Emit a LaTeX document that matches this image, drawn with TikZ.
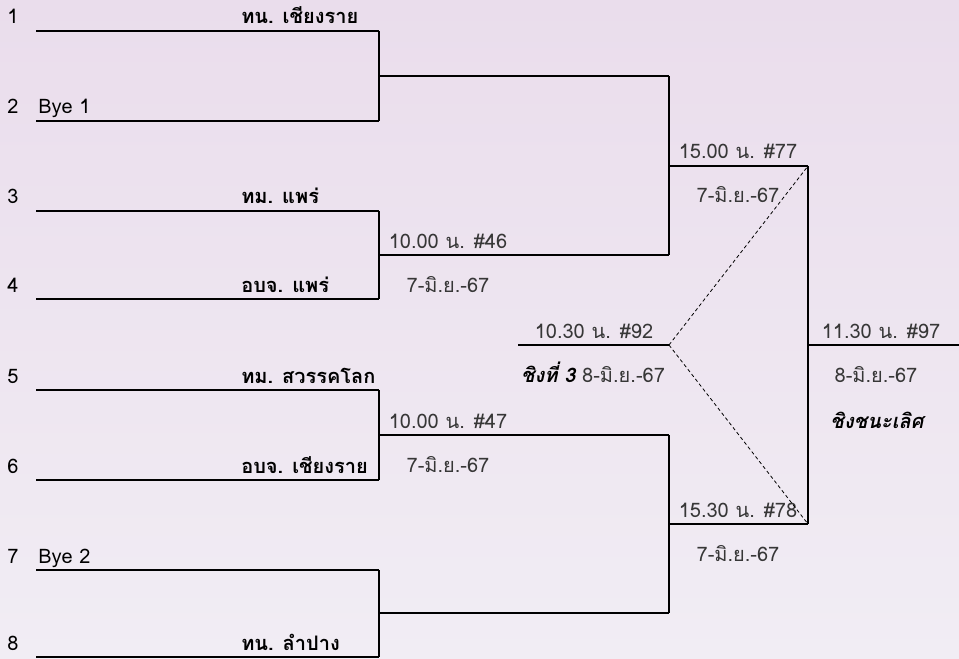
\documentclass[tikz,border=0pt]{standalone}
\usepackage{fontspec}
\setmainfont{Loma}[Script=Thai, BoldFont={Loma Bold}, ItalicFont={Loma Oblique}, BoldItalicFont={Loma Bold Oblique}]
\usetikzlibrary{calc}
\definecolor{bgtop}{RGB}{234,221,236}
\definecolor{bgbottom}{RGB}{241,237,244}
\definecolor{labelgray}{RGB}{55,55,55}
\newcommand{\bracketfont}{\fontsize{15}{18}\selectfont}
\tikzstyle{bracketline}=[black,line width=0.9pt]
\tikzstyle{crossline}=[black,line width=0.6pt,dash pattern=on 2.6pt off 2pt]
\tikzstyle{seednum}=[anchor=base west,inner sep=0pt,font=\bracketfont]
\tikzstyle{teamname}=[anchor=base west,inner sep=0pt,font=\bracketfont\bfseries]
\tikzstyle{byename}=[anchor=base west,inner sep=0pt,font=\bracketfont]
\tikzstyle{schedule}=[anchor=base,inner sep=0pt,text=labelgray,font=\bracketfont]
\newcommand{\seedline}[2]{ % seed number, height of its line
	\coordinate (p#1l) at (36,#2);
	\coordinate (p#1r) at (379,#2);
	\draw[bracketline] (p#1l) -- (p#1r);
	\node[seednum] (seed#1) at (7,#2-7) {#1};
}
\newcommand{\matchinfo}[5]{ % name, centre, height of line, time, date
	\node[schedule] (#1time) at (#2,#3-7) {#4};
	\node[schedule] (#1date) at (#2,#3+37) {#5};
}
\begin{document}
\begin{tikzpicture}[x=0.75pt,y=-0.75pt]
	\fill[top color=bgtop,bottom color=bgbottom] (0,0) rectangle (959,659);
	\useasboundingbox (0,0) rectangle (959,659);
	% first round
	\foreach \i/\y in {1/31,2/121,3/211,4/299,5/390,6/480,7/570,8/657} {
		\seedline{\i}{\y}
	}
	\node[teamname] (team1) at (241,24) {ทน. เชียงราย};
	\node[byename] (team2) at (38,114) {Bye 1};
	\node[teamname] (team3) at (241,204) {ทม. แพร่};
	\node[teamname] (team4) at (241,292) {อบจ. แพร่};
	\node[teamname] (team5) at (241,383) {ทม. สวรรคโลก};
	\node[teamname] (team6) at (241,473) {อบจ. เชียงราย};
	\node[byename] (team7) at (38,563) {Bye 2};
	\node[teamname] (team8) at (241,650) {ทน. ลำปาง};
	% second round
	\foreach \k/\y in {1/76,2/255,3/435,4/613} {
		\coordinate (q\k) at (379,\y);
		\coordinate (q\k e) at (669,\y);
		\draw[bracketline] (q\k) -- (q\k e);
	}
	\draw[bracketline] (p1r) -- (p2r);
	\draw[bracketline] (p3r) -- (p4r);
	\draw[bracketline] (p5r) -- (p6r);
	\draw[bracketline] (p7r) -- (p8r);
	\matchinfo{m46}{448}{255}{10.00 น. \#46}{7-มิ.ย.-67}
	\matchinfo{m47}{448}{435}{10.00 น. \#47}{7-มิ.ย.-67}
	% semi finals
	\coordinate (h1) at (669,166);
	\coordinate (h1e) at (808,166);
	\coordinate (h2) at (669,524);
	\coordinate (h2e) at (808,524);
	\draw[bracketline] (q1e) -- (q2e);
	\draw[bracketline] (q3e) -- (q4e);
	\draw[bracketline] (h1) -- (h1e);
	\draw[bracketline] (h2) -- (h2e);
	\matchinfo{m77}{738}{166}{15.00 น. \#77}{7-มิ.ย.-67}
	\matchinfo{m78}{738}{524}{15.30 น. \#78}{7-มิ.ย.-67}
	% final
	\coordinate (f) at (808,345);
	\coordinate (fe) at (959,345);
	\draw[bracketline] (h1e) -- (h2e);
	\draw[bracketline] (f) -- (fe);
	\node[schedule] (m97time) at (881,338) {11.30 น. \#97};
	\node[schedule] (m97date) at (876,382) {8-มิ.ย.-67};
	\node[schedule,font=\bracketfont\bfseries\itshape,text=black] (m97title) at (877,428) {ชิงชนะเลิศ};
	% third place
	\coordinate (t) at (518,345);
	\coordinate (te) at (669,345);
	\draw[bracketline] (t) -- (te);
	\draw[crossline] (te) -- (h1e);
	\draw[crossline] (te) -- (h2e);
	\node[schedule] (m92time) at (594,338) {10.30 น. \#92};
	\node[schedule] (m92date) at (593,382) {{\bfseries\itshape\color{black}ชิงที่ 3} 8-มิ.ย.-67};
\end{tikzpicture}
\end{document}
